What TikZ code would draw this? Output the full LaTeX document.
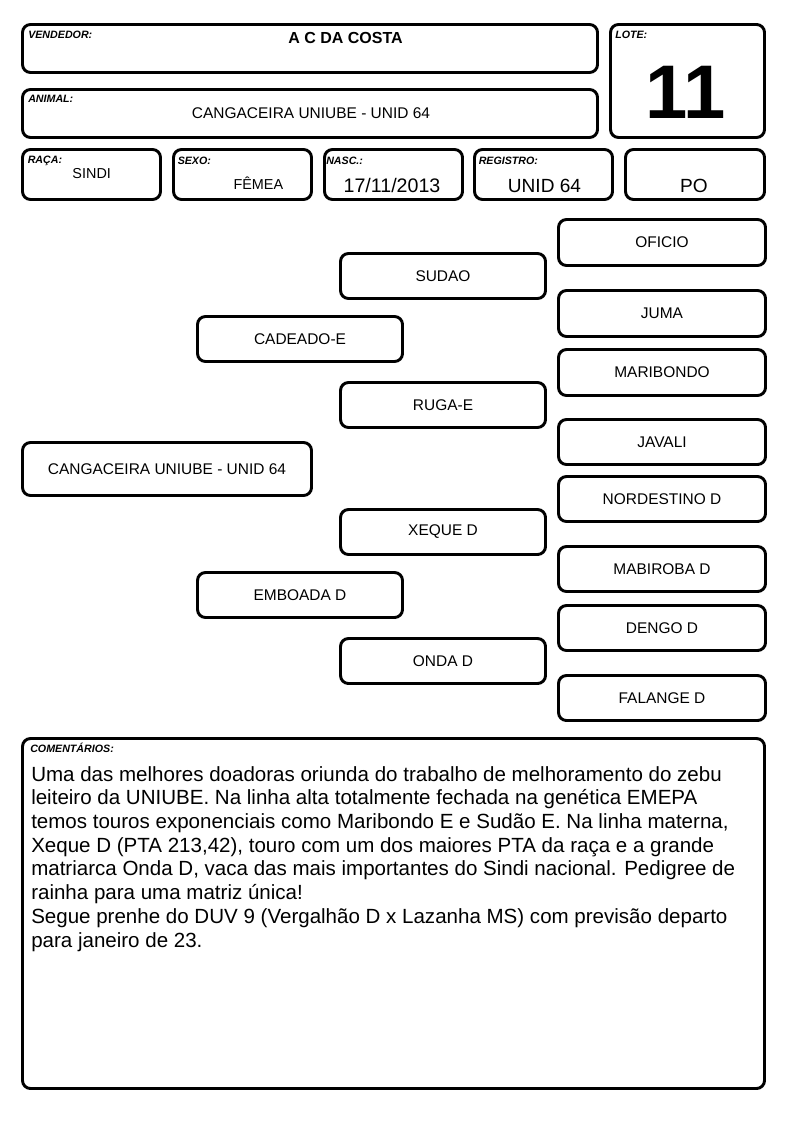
\documentclass[tikz,border=0pt]{standalone}
\usepackage{fontspec}
\setmainfont{Liberation Sans}
\newcommand\bx[6]{\node[box, minimum width={(#4-#2-3)*0.75pt}, minimum height={(#5-#3-3)*0.75pt}] (#1) at ({(#2+#4)/2},{(#3+#5)/2}) {#6};}
\begin{document}
\begin{tikzpicture}[x=0.75pt,y=-0.75pt,
  box/.style={draw=black, line width=2.2pt, rounded corners=6pt, inner sep=0pt, fill=white, font=\fontsize{11.6pt}{13pt}\selectfont},
  lbl/.style={anchor=base west, inner sep=0pt, font=\fontsize{8pt}{9pt}\selectfont\bfseries\itshape},
  val/.style={anchor=base, inner sep=0pt}]
\useasboundingbox[fill=white] (0,0) rectangle (794,1123);
% header
\bx{vend}{21}{23}{599}{74}{}
\bx{anim}{21}{88}{599}{139}{}
\bx{lote}{609}{23}{766}{139}{}
\bx{raca}{21}{148}{162}{201}{}
\bx{sexo}{172}{148}{313}{201}{}
\bx{nasc}{323}{148}{464}{201}{}
\bx{reg}{473}{148}{614}{201}{}
\bx{po}{624}{148}{766}{201}{}
\node[lbl] (lvend) at (28,39) {VENDEDOR:};
\node[lbl] (lanim) at (28,103) {ANIMAL:};
\node[lbl] (llote) at (615,38.5) {LOTE:};
\node[lbl] (lraca) at (27.5,163.5) {RAÇA:};
\node[lbl] (lsexo) at (177.5,164.5) {SEXO:};
\node[lbl] (lnasc) at (326,164.5) {NASC.:};
\node[lbl] (lreg) at (478.5,164.5) {REGISTRO:};
\node[val, font=\fontsize{12pt}{14pt}\selectfont\bfseries] (tvend) at (345.5,43.3) {A C DA COSTA};
\node[val, font=\fontsize{11.6pt}{14pt}\selectfont] (tanim) at (311,119) {CANGACEIRA UNIUBE - UNID 64};
\node[val, font=\fontsize{57pt}{60pt}\selectfont\bfseries] (tlote) at (686,118.3) {11};
\node[val, font=\fontsize{10.8pt}{13pt}\selectfont] (traca) at (91.7,178.3) {SINDI};
\node[val, font=\fontsize{10.8pt}{13pt}\selectfont] (tsexo) at (258.3,189.3) {FÊMEA};
\node[val, font=\fontsize{14.7pt}{17pt}\selectfont] (tnasc) at (392,192.7) {17/11/2013};
\node[val, font=\fontsize{14.3pt}{17pt}\selectfont] (treg) at (544.5,193) {UNID 64};
\node[val, font=\fontsize{14.3pt}{17pt}\selectfont] (tpo) at (694,193) {PO};
% pedigree
\bx{an}{21}{441}{313}{497}{CANGACEIRA UNIUBE - UNID 64}
\bx{pai}{196}{315}{404}{363}{CADEADO-E}
\bx{mae}{196}{571}{404}{619}{EMBOADA D}
\bx{avp}{339}{252}{547}{300}{SUDAO}
\bx{avmp}{339}{381}{547}{429}{RUGA-E}
\bx{avpm}{339}{508}{547}{556}{XEQUE D}
\bx{avm}{339}{637}{547}{685}{ONDA D}
\bx{b1}{557}{218}{767}{267}{OFICIO}
\bx{b2}{557}{289}{767}{338}{JUMA}
\bx{b3}{557}{348}{767}{397}{MARIBONDO}
\bx{b4}{557}{418}{767}{466}{JAVALI}
\bx{b5}{557}{475}{767}{523}{NORDESTINO D}
\bx{b6}{557}{545}{767}{593}{MABIROBA D}
\bx{b7}{557}{604}{767}{652}{DENGO D}
\bx{b8}{557}{674}{767}{722}{FALANGE D}
% comments
\bx{com}{21}{737}{766}{1090}{}
\node[lbl] (lcom) at (30,752.5) {COMENTÁRIOS:};
\node[anchor=base west, inner sep=0pt, font=\fontsize{15.4pt}{17.8pt}\selectfont] (tcom) at (31,781) {\vtop{\hbox{Uma das melhores doadoras oriunda do trabalho de melhoramento do zebu}
\hbox{leiteiro da UNIUBE. Na linha alta totalmente fechada na genética EMEPA}
\hbox{temos touros exponenciais como Maribondo E e Sudão E. Na linha materna,}
\hbox{Xeque D (PTA 213,42), touro com um dos maiores PTA da raça e a grande}
\hbox{matriarca Onda D, vaca das mais importantes do Sindi nacional. Pedigree de}
\hbox{rainha para uma matriz única!}
\hbox{Segue prenhe do DUV 9 (Vergalhão D x Lazanha MS) com previsão departo}
\hbox{para janeiro de 23.}}};
\end{tikzpicture}
\end{document}
